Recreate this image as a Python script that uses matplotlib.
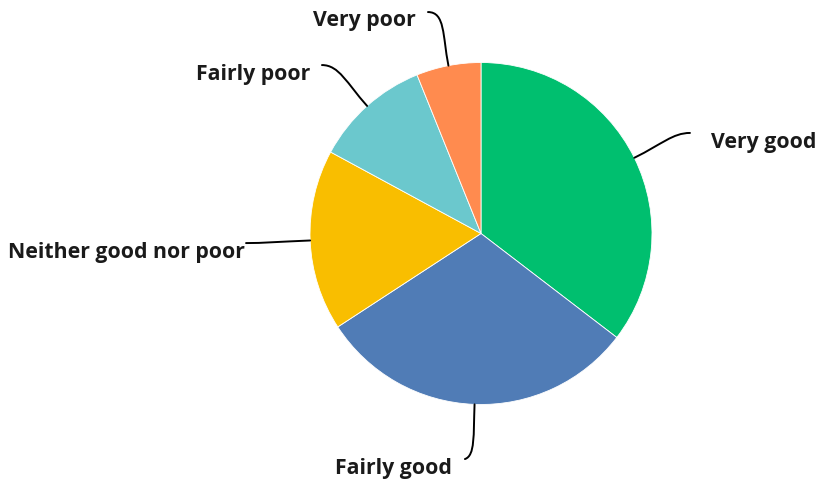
import matplotlib
matplotlib.use("Agg")
import matplotlib.pyplot as plt
from matplotlib.path import Path
from matplotlib.patches import PathPatch
import numpy as np

categories = ["Very good", "Fairly good", "Neither good nor poor", "Fairly poor", "Very poor"]
values = [35.4, 30.4, 17.1, 11.0, 6.1]
colors = ["#00BF6F", "#507CB6", "#F9BE00", "#6BC8CD", "#FF8B4F"]

# leader end points and label anchors, in pie-radius units
leader_ends = [(1.222, 0.588), (-0.094, -1.319), (-1.374, -0.056), (-0.930, 0.985), (-0.310, 1.295)]
label_pos = [(1.345, 0.535), (-0.170, -1.375), (-1.380, -0.113), (-1.0, 0.927), (-0.380, 1.244)]
label_ha = ["left", "right", "right", "right", "right"]

W, H, DPI = 817, 482, 100
fig = plt.figure(figsize=(W / DPI, H / DPI), dpi=DPI)
ax = fig.add_axes([0, 0, 1, 1])
cx, cy, r = 481, 233.5, 171

wedges, _ = ax.pie(values, colors=colors, startangle=90, counterclock=False,
                   radius=1, center=(0, 0),
                   wedgeprops=dict(edgecolor="white", linewidth=0.6))
ax.set_xlim(-cx / r, (W - cx) / r)
ax.set_ylim(-(H - cy) / r, cy / r)
ax.set_aspect("equal")
ax.axis("off")

text_color = "#1a1a1a"
for w, name, end, pos, ha in zip(wedges, categories, leader_ends, label_pos, label_ha):
    mid = np.deg2rad((w.theta1 + w.theta2) / 2)
    u = np.array([np.cos(mid), np.sin(mid)])
    p0 = u * 1.0
    p1 = u * 1.18
    side = 1 if end[0] < p0[0] else -1
    if name == "Fairly good":
        p2 = (end[0] + 0.06, end[1] + 0.02)
    else:
        p2 = (end[0] + side * 0.1, end[1])
    path = Path([tuple(p0), tuple(p1), p2, end],
                [Path.MOVETO, Path.CURVE4, Path.CURVE4, Path.CURVE4])
    ax.add_patch(PathPatch(path, fill=False, edgecolor="black", linewidth=1.4,
                           capstyle="round"))
    ax.text(pos[0], pos[1], name, ha=ha, va="center", fontsize=15.3,
            fontweight="bold", family="Open Sans", color=text_color)

fig.savefig("out.png", dpi=DPI)
